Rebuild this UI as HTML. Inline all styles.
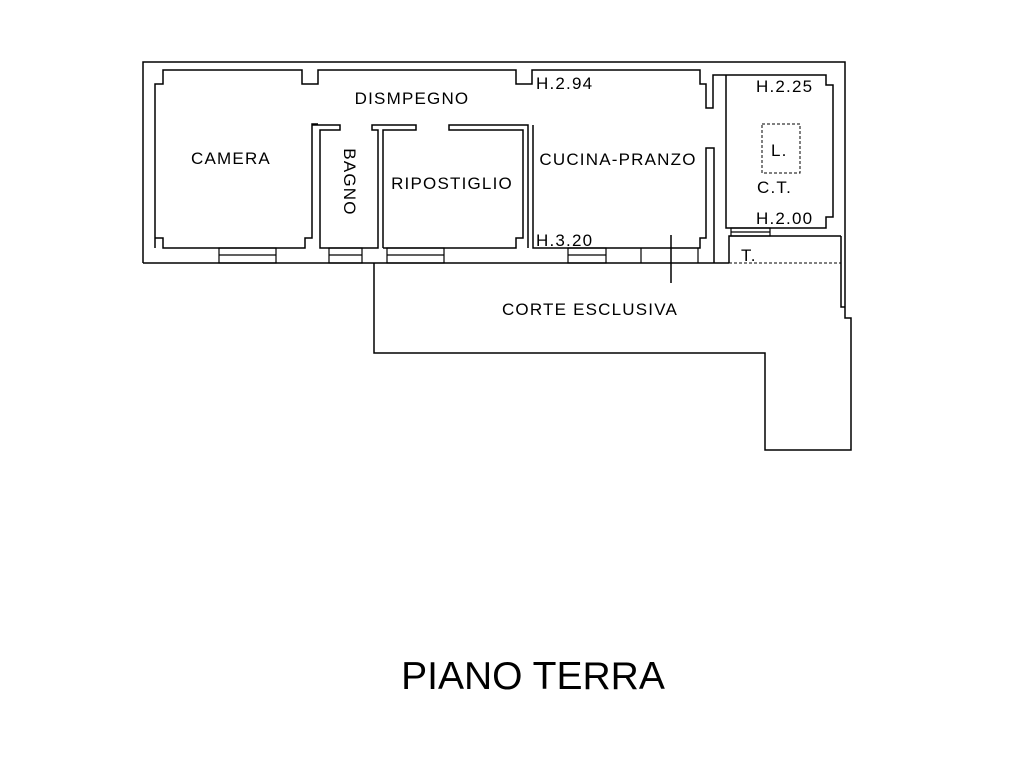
<!DOCTYPE html>
<html><head><meta charset="utf-8"><style>
html,body{margin:0;padding:0;background:#fff;width:1024px;height:768px;overflow:hidden}
text{font-family:"Liberation Sans",sans-serif;fill:#000}
</style></head><body>
<svg width="1024" height="768" viewBox="0 0 1024 768" xmlns="http://www.w3.org/2000/svg">
<g fill="none" stroke="#000" stroke-width="1.5">
<polyline points="143,263 143,62 845,62 845,318 851,318 851,450 765,450 765,353 374,353 374,263"/>
<line x1="143" y1="263" x2="729" y2="263"/>
<polyline points="841,236 841,307 845,307"/>
<polyline points="155,248 155,84 163,84 163,70 302,70 302,84 318,84 318,70 516,70 516,84 532,84 532,70 700,70 700,84 706,84 706,108 713,108 713,75 826,75 826,85 833,85 833,217 826,217 826,228 726,228 726,75"/>
<polyline points="155,238 163,238 163,248 305,248 305,238 312,238 312,124 318,124"/>
<polyline points="313,124 313,125 340,125 340,130 320,130 320,248 378,248 378,130 372,130 372,125 416,125 416,130 383,130 383,248"/>
<polyline points="383,248 516,248 516,238 523,238 523,130 449,130 449,125 528,125 528,248"/>
<polyline points="533,125 533,248 700,248 700,238 706,238 706,148 714,148 714,263"/>
<polyline points="729,263 729,236 841,236"/>
<g stroke-width="1.2">
<rect x="219" y="248" width="57" height="15"/><line x1="219" y1="255" x2="276" y2="255"/>
<rect x="329" y="248" width="33" height="15"/><line x1="329" y1="255" x2="362" y2="255"/>
<rect x="387" y="248" width="57" height="15"/><line x1="387" y1="255" x2="444" y2="255"/>
<rect x="568" y="248" width="38" height="15"/><line x1="568" y1="255" x2="606" y2="255"/>
<line x1="641" y1="248" x2="641" y2="263"/><line x1="698" y1="248" x2="698" y2="263"/>
<rect x="731" y="228" width="39" height="8"/><line x1="731" y1="232" x2="770" y2="232"/>
</g>
<line x1="671" y1="235" x2="671" y2="283"/>
<g stroke-dasharray="3,2" stroke-width="1">
<line x1="729" y1="263" x2="841" y2="263"/>
<rect x="762" y="124" width="38" height="49"/>
</g>
</g>
<g font-size="17" letter-spacing="1.2">
<text x="412" y="104" text-anchor="middle">DISMPEGNO</text>
<text x="231" y="164" text-anchor="middle">CAMERA</text>
<text x="452" y="189" text-anchor="middle">RIPOSTIGLIO</text>
<text x="618" y="165" text-anchor="middle">CUCINA-PRANZO</text>
<text x="536" y="89">H.2.94</text>
<text x="756" y="92">H.2.25</text>
<text x="771" y="156">L.</text>
<text x="757" y="193">C.T.</text>
<text x="756" y="224">H.2.00</text>
<text x="536" y="246">H.3.20</text>
<text x="741" y="261">T.</text>
<text x="590" y="315" text-anchor="middle">CORTE ESCLUSIVA</text>
<text transform="translate(344,182) rotate(90)" text-anchor="middle">BAGNO</text>
</g>
<text x="533" y="689" font-size="39" text-anchor="middle">PIANO TERRA</text>
</svg>
</body></html>
